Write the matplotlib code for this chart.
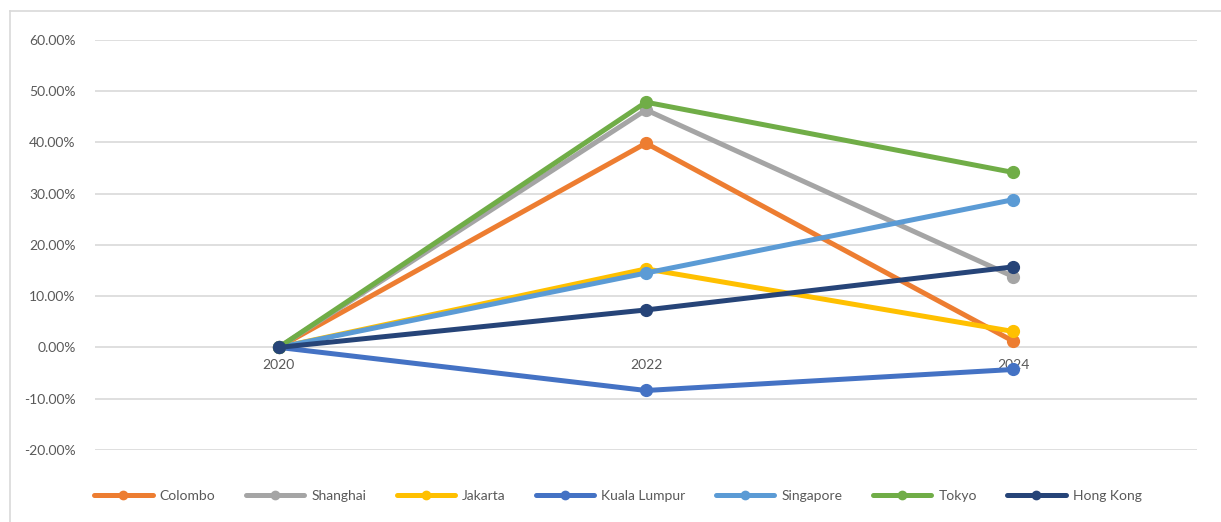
import matplotlib.pyplot as plt
from matplotlib.lines import Line2D
from matplotlib.ticker import FuncFormatter

# Data: percentage change relative to 2020
years = ["2020", "2022", "2024"]
cities = ["Colombo", "Shanghai", "Jakarta", "Kuala Lumpur", "Singapore", "Tokyo", "Hong Kong"]
colombo = [0.0, 39.8, 1.2]
shanghai = [0.0, 46.3, 13.8]
jakarta = [0.0, 15.3, 3.1]
kuala_lumpur = [0.0, -8.4, -4.3]
singapore = [0.0, 14.5, 28.8]
tokyo = [0.0, 47.8, 34.1]
hong_kong = [0.0, 7.3, 15.7]
series = [colombo, shanghai, jakarta, kuala_lumpur, singapore, tokyo, hong_kong]

colors = ["#ED7D31", "#A5A5A5", "#FFC000", "#4472C4", "#5B9BD5", "#70AD47", "#264478"]

plt.rcParams['font.family'] = ['Lato', 'DejaVu Sans']
text_col = "#595959"
W, H = 1221, 522

fig = plt.figure(figsize=(W / 100, H / 100), dpi=100)
ax = fig.add_axes([95 / W, (H - 450) / H, (1197 - 95) / W, (450 - 39.6) / H])

x = list(range(len(years)))
for i, (name, vals, c) in enumerate(zip(cities, series, colors)):
    ax.plot(x, vals, color=c, lw=3.6, marker='o', ms=8.5, solid_capstyle='round',
            label=name, zorder=3 + i)

ax.set_xlim(-0.5, 2.5)
ax.set_ylim(-20, 60)
ax.set_yticks(range(-20, 61, 10))
ax.yaxis.set_major_formatter(FuncFormatter(lambda v, p: f"{v:.2f}%"))
ax.grid(axis='y', color='#D9D9D9', lw=1.2, zorder=0)
ax.set_axisbelow(True)

# category labels sit just under the zero line
ax.set_xticks(x)
ax.set_xticklabels(years)
ax.spines['bottom'].set_position(('data', 0))
for s in ['top', 'right', 'left', 'bottom']:
    ax.spines[s].set_visible(False)
ax.tick_params(axis='both', length=0, colors=text_col, labelsize=10)
ax.tick_params(axis='y', pad=14)
ax.tick_params(axis='x', pad=8)

handles = [Line2D([0], [0], color=c, lw=3.6, marker='o', ms=6, solid_capstyle='round')
           for c in colors]
leg = fig.legend(handles, cities, loc='center', bbox_to_anchor=(0.506, (H - 496) / H),
                 ncol=7, frameon=False, fontsize=10, handlelength=4.2,
                 columnspacing=2.2, handletextpad=0.5)
for t in leg.get_texts():
    t.set_color(text_col)

# chart area border (top and left edges visible)
fig.add_artist(Line2D([10 / W, 10 / W], [0, (H - 10.5) / H], color='#D9D9D9', lw=1.2,
                      transform=fig.transFigure))
fig.add_artist(Line2D([10 / W, 1], [(H - 10.5) / H, (H - 10.5) / H], color='#D9D9D9', lw=1.2,
                      transform=fig.transFigure))

fig.savefig("out.png", dpi=100)
